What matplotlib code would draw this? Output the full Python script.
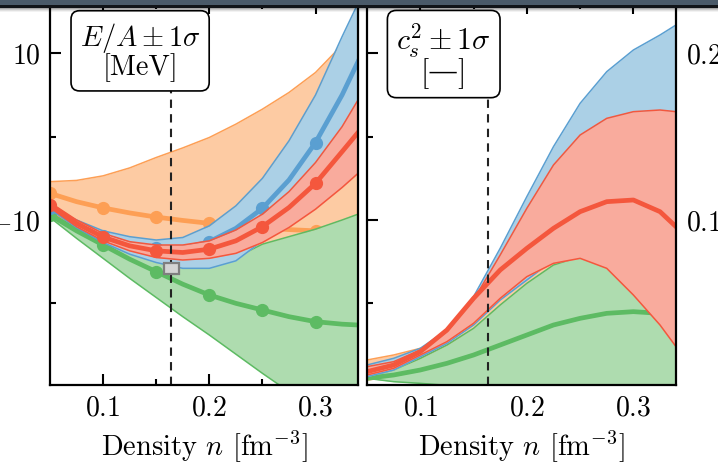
import matplotlib
matplotlib.use('Agg')
import matplotlib.pyplot as plt
from matplotlib.patches import Rectangle

plt.rcParams['font.family'] = 'serif'
plt.rcParams['font.serif'] = ['cmr10']
plt.rcParams['mathtext.fontset'] = 'cm'
plt.rcParams['axes.formatter.use_mathtext'] = True

# density grid [fm^-3]
density = [0.05, 0.075, 0.1, 0.125, 0.15, 0.175, 0.2, 0.225, 0.25, 0.275, 0.3, 0.325, 0.34]
marker_idx = [0, 2, 4, 6, 8, 10]  # n = 0.05, 0.1, ..., 0.3

# energy per particle E/A [MeV]: lower, center, upper
ea_orange_lo = [-9.0, -10.8, -12.4, -14.2, -16.0, -17.8, -19.6, -21.4, -23.2, -25.0, -26.8, -28.6, -29.7]
ea_orange = [-6.8, -7.8, -8.55, -9.15, -9.65, -10.05, -10.4, -10.7, -10.95, -11.15, -11.3, -11.45, -11.5]
ea_orange_hi = [-5.4, -5.25, -4.7, -3.75, -2.5, -1.35, -0.1, 1.5, 3.3, 5.3, 7.7, 11.0, 13.0]

ea_green_lo = [-9.7, -12.2, -14.6, -17.0, -19.3, -21.6, -23.8, -26.1, -28.4, -30.6, -32.7, -34.7, -35.9]
ea_green = [-9.4, -11.3, -13.0, -14.7, -16.2, -17.7, -19.0, -20.0, -20.8, -21.6, -22.2, -22.5, -22.6]
ea_green_hi = [-9.1, -11.0, -12.7, -14.0, -14.8, -15.3, -15.3, -14.5, -12.9, -12.0, -11.1, -10.0, -9.3]

ea_blue_lo = [-8.7, -10.9, -12.7, -14.1, -15.1, -15.8, -15.8, -14.9, -12.5, -10.4, -7.5, -3.0, 0.0]
ea_blue = [-8.5, -10.4, -11.9, -12.9, -13.4, -13.4, -12.6, -11.0, -8.6, -5.2, -0.7, 5.0, 9.0]
ea_blue_hi = [-8.45, -10.0, -11.3, -12.0, -12.4, -12.1, -10.7, -8.3, -5.0, -0.5, 5.0, 12.0, 16.0]

ea_red_lo = [-8.5, -10.8, -12.5, -13.7, -14.5, -14.8, -14.6, -14.0, -12.7, -10.9, -8.7, -6.1, -4.4]
ea_red = [-8.2, -10.4, -12.05, -13.1, -13.7, -13.9, -13.5, -12.5, -10.8, -8.5, -5.6, -1.8, 0.5]
ea_red_hi = [-7.9, -10.0, -11.6, -12.6, -13.0, -13.0, -12.5, -11.2, -9.3, -6.6, -3.1, 1.2, 4.4]

# speed of sound squared c_s^2: lower, center, upper
cs_orange_lo = [0.004, 0.006, 0.008, 0.012, 0.016, 0.020, 0.024, 0.027, 0.030, 0.031, 0.030, 0.028, 0.026]
cs_orange = [0.010, 0.013, 0.017, 0.024, 0.032, 0.042, 0.050, 0.055, 0.058, 0.058, 0.055, 0.050, 0.046]
cs_orange_hi = [0.016, 0.019, 0.023, 0.030, 0.046, 0.060, 0.072, 0.080, 0.085, 0.085, 0.080, 0.070, 0.065]

cs_green_lo = [0.005, 0.003, 0.002, 0.0008, -0.0005, -0.002, -0.004, -0.007, -0.010, -0.013, -0.016, -0.019, -0.021]
cs_green = [0.005, 0.007, 0.010, 0.014, 0.019, 0.025, 0.031, 0.037, 0.041, 0.044, 0.045, 0.044, 0.043]
cs_green_hi = [0.006, 0.010, 0.017, 0.025, 0.035, 0.049, 0.062, 0.073, 0.078, 0.073, 0.058, 0.041, 0.028]

cs_blue_lo = [0.006, 0.010, 0.018, 0.026, 0.037, 0.052, 0.064, 0.076, 0.085, 0.090, 0.095, 0.098, 0.100]
cs_blue = [0.0095, 0.013, 0.0205, 0.0295, 0.045, 0.067, 0.090, 0.111, 0.128, 0.140, 0.149, 0.155, 0.158]
cs_blue_hi = [0.013, 0.017, 0.023, 0.034, 0.054, 0.083, 0.114, 0.144, 0.170, 0.189, 0.202, 0.211, 0.217]

cs_red_lo = [0.007, 0.011, 0.019, 0.027, 0.038, 0.053, 0.066, 0.074, 0.077, 0.071, 0.055, 0.037, 0.024]
cs_red = [0.009, 0.013, 0.021, 0.034, 0.053, 0.070, 0.083, 0.095, 0.105, 0.111, 0.112, 0.105, 0.096]
cs_red_hi = [0.012, 0.015, 0.022, 0.033, 0.052, 0.079, 0.107, 0.133, 0.151, 0.161, 0.165, 0.166, 0.165]

# empirical saturation point and nuclear saturation density
sat_n, sat_dn = 0.164, 0.007
sat_e, sat_de = -15.86, 0.65
n_sat = 0.164

colors = {
    'orange': ('#fdcba3', '#fd9f55'),
    'green': ('#aedcaf', '#5dbb63'),
    'blue': ('#abd0e6', '#5a9fd1'),
    'red': ('#f9ab9d', '#f4573d'),
}


def band(ax, lo, mid, hi, name, z, markers=False):
    fill, line = colors[name]
    ax.fill_between(density, lo, hi, color=fill, lw=0, zorder=z)
    ax.plot(density, lo, color=line, lw=1.1, zorder=z + 0.1)
    ax.plot(density, hi, color=line, lw=1.1, zorder=z + 0.1)
    if markers:
        ax.plot(density, mid, color=line, lw=3.4, marker='o', ms=8.5,
                markevery=marker_idx, zorder=z + 0.2)
    else:
        ax.plot(density, mid, color=line, lw=3.4, zorder=z + 0.2)


fig = plt.figure(figsize=(7.18, 4.62), dpi=100)
W, H = 718.0, 462.0
ax1 = fig.add_axes([50 / W, 1 - 385 / H, 308 / W, 382 / H])
ax2 = fig.add_axes([367 / W, 1 - 385 / H, 309 / W, 382 / H])

band(ax1, ea_orange_lo, ea_orange, ea_orange_hi, 'orange', 1, True)
band(ax1, ea_green_lo, ea_green, ea_green_hi, 'green', 2, True)
band(ax1, ea_blue_lo, ea_blue, ea_blue_hi, 'blue', 3, True)
band(ax1, ea_red_lo, ea_red, ea_red_hi, 'red', 4, True)

band(ax2, cs_orange_lo, cs_orange, cs_orange_hi, 'orange', 1)
band(ax2, cs_green_lo, cs_green, cs_green_hi, 'green', 2)
band(ax2, cs_blue_lo, cs_blue, cs_blue_hi, 'blue', 3)
band(ax2, cs_red_lo, cs_red, cs_red_hi, 'red', 4)

for ax in (ax1, ax2):
    ax.axvline(n_sat, color='#222222', ls=(0, (4, 3)), lw=1.5, zorder=5)

ax1.add_patch(Rectangle((sat_n - sat_dn, sat_e - sat_de), 2 * sat_dn, 2 * sat_de,
                        facecolor='#d4d4d4', edgecolor='#7f7f7f', lw=1.6, zorder=6))

ax1.set_ylim(-29.8, 16.04)
ax2.set_ylim(0.001, 0.2302)
ax1.set_yticks([-10, 10])
ax1.set_yticks([-20, 0], minor=True)
ax2.set_yticks([0.1, 0.2])
ax2.set_yticks([0.05, 0.15], minor=True)

for ax in (ax1, ax2):
    ax.set_xlim(0.05, 0.34)
    ax.set_xticks([0.1, 0.2, 0.3])
    ax.set_xticks([0.15, 0.25], minor=True)
    ax.tick_params(which='both', direction='in', top=True, right=True, width=1.5,
                   labelsize=20, pad=7)
    ax.tick_params(which='major', length=8)
    ax.tick_params(which='minor', length=4.5)
    for s in ax.spines.values():
        s.set_linewidth(1.6)
        s.set_zorder(12)
    ax.set_xlabel(r'Density $n$ [fm$^{-3}$]', fontsize=20.5, labelpad=6)

ax2.tick_params(axis='y', labelleft=False, labelright=True)

box = dict(boxstyle='round,pad=0.3', facecolor='white', edgecolor='black', lw=1.2)
ax1.text(0.096, 0.952, '$E/A \\pm 1\\sigma$\n[MeV]', transform=ax1.transAxes,
         ha='left', va='top', ma='center', fontsize=20.5, bbox=box, zorder=10,
         linespacing=0.92)
ax2.text(0.095, 0.952, '$c_s^2 \\pm 1\\sigma$\n[\u2014]', transform=ax2.transAxes,
         ha='left', va='top', ma='center', fontsize=21.5, bbox=box, zorder=10,
         linespacing=0.92, family=['cmr10', 'DejaVu Serif'])

# dark window strip across the top
fig.add_artist(Rectangle((0, 1 - 5 / H), 1, 5 / H, transform=fig.transFigure,
                         facecolor='#4a5a69', lw=0, zorder=20))
fig.add_artist(Rectangle((0, 1 - 8 / H), 1, 3 / H, transform=fig.transFigure,
                         facecolor='#111418', lw=0, zorder=20))
for i, a in enumerate([0.35, 0.22, 0.12, 0.05]):
    fig.add_artist(Rectangle((0, 1 - (9 + i) / H), 1, 1 / H, transform=fig.transFigure,
                             facecolor='black', alpha=a, lw=0, zorder=20))

fig.savefig('out.png', dpi=100)
